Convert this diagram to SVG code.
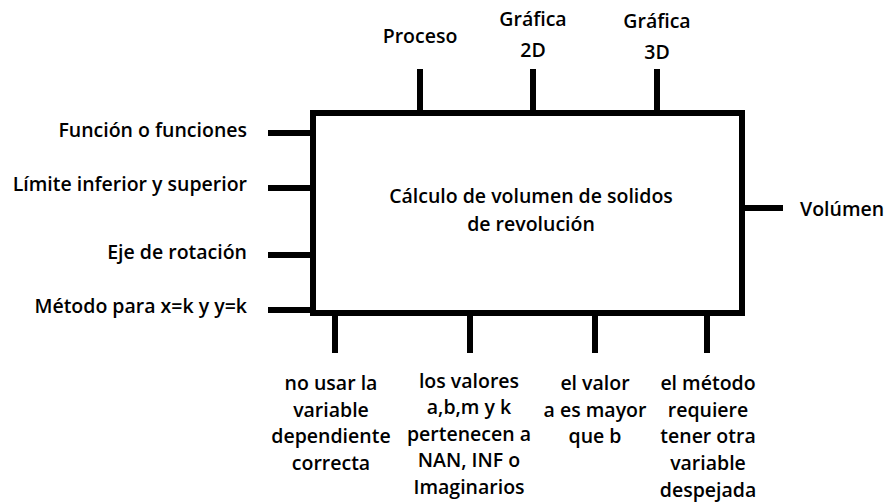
<svg xmlns="http://www.w3.org/2000/svg" width="888" height="504" viewBox="0 0 888 504">
<style>
text{font-family:"Open Sans","Liberation Sans",sans-serif;font-size:19.5px;font-weight:600;fill:#000}
.e{text-anchor:end}
.m{text-anchor:middle}
.ln{stroke:#000;stroke-width:6;fill:none}
</style>
<rect width="888" height="504" fill="#fff"/>
<g id="main">
<rect class="ln" x="313" y="113" width="429" height="200"/>
<text class="m" x="531" y="203">Cálculo de volumen de solidos</text>
<text class="m" x="531" y="231">de revolución</text>
</g>
<g id="connectors">
<path class="ln" d="M420 69V113M533 69V113M657 69V113M268 133H313M268 188H313M268 255H313M268 310H313M742 208H783M335 313V353M470 313V353M595 313V353M707 313V353"/>
</g>
<g id="proceso"><text class="m" x="420" y="43">Proceso</text></g>
<g id="grafica2d"><text class="m" x="533" y="26">Gráfica</text><text class="m" x="533" y="57">2D</text></g>
<g id="grafica3d"><text class="m" x="657" y="28">Gráfica</text><text class="m" x="657" y="59">3D</text></g>
<g id="funcion"><text class="e" x="247" y="137">Función o funciones</text></g>
<g id="limite"><text class="e" x="247" y="191">Límite inferior y superior</text></g>
<g id="eje"><text class="e" x="247" y="259">Eje de rotación</text></g>
<g id="metodo"><text class="e" x="247" y="313">Método para x=k y y=k</text></g>
<g id="volumen"><text x="800" y="216">Volúmen</text></g>
<g id="r1"><text class="m" x="331" y="390">no usar la</text><text class="m" x="331" y="417">variable</text><text class="m" x="331" y="443">dependiente</text><text class="m" x="331" y="470">correcta</text></g>
<g id="r2"><text class="m" x="469" y="388">los valores</text><text class="m" x="469" y="414">a,b,m y k</text><text class="m" x="469" y="441">pertenecen a</text><text class="m" x="469" y="467">NAN, INF o</text><text class="m" x="469" y="494">Imaginarios</text></g>
<g id="r3"><text class="m" x="595" y="390">el valor</text><text class="m" x="595" y="417">a es mayor</text><text class="m" x="595" y="443">que b</text></g>
<g id="r4"><text class="m" x="708" y="390">el método</text><text class="m" x="708" y="417">requiere</text><text class="m" x="708" y="443">tener otra</text><text class="m" x="708" y="470">variable</text><text class="m" x="708" y="497">despejada</text></g>
</svg>
